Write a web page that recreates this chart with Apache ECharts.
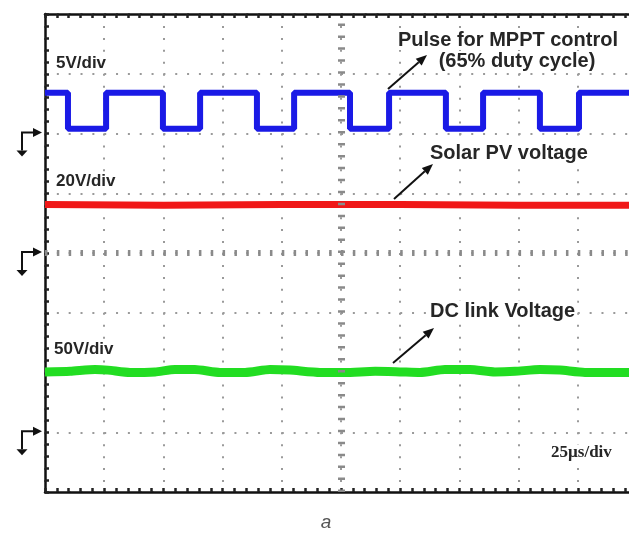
<!DOCTYPE html>
<html>
<head>
<meta charset="UTF-8">
<title>MPPT waveforms</title>
<style>
    html, body { margin: 0; padding: 0; background: #fff; }
    #main { width: 629px; height: 534px; }
</style>
<script src="https://cdn.jsdelivr.net/npm/echarts@6/dist/echarts.min.js"></script>
</head>
<body>
<div id="main"></div>
<script type="text/javascript">
    // time in µs (25 µs/div), levels in screen divisions from the centre line
    var pulseFall = [9.7, 49.8, 89.5, 128.8, 169.3, 209.0];
    var pulseRise = [25.8, 65.5, 105.2, 145.3, 185.0, 225.5];
    var pulseHigh = 2.68;
    var pulseLow = 2.08;

    var pvTime = [0, 50, 100, 150, 200, 250];
    var pvLevel = [0.81, 0.80, 0.81, 0.81, 0.80, 0.80];

    var dcTime = [0, 10.6, 21.1, 26.6, 35.9, 46.5, 54.9, 63.3, 73.9, 84.5, 95.0, 103.5, 116.1, 126.7, 139.4, 149.9, 158.4, 168.9, 179.5, 190.0, 198.5, 209.0, 217.5, 228.0, 250];
    var dcLevel = [-1.99, -1.98, -1.95, -1.96, -2.0, -1.99, -1.95, -1.95, -2.0, -2.0, -1.95, -1.96, -2.0, -2.0, -1.98, -1.99, -2.0, -1.95, -1.95, -1.99, -1.98, -1.95, -1.96, -2.0, -2.0];

    // channel reference (ground) markers on the left
    var groundLevel = [2, 0, -3];

    // square wave from the edge times
    var pulseData = [[0, pulseHigh]];
    for (var i = 0; i < pulseFall.length; i++) {
        pulseData.push([pulseFall[i], pulseHigh], [pulseFall[i], pulseLow]);
        pulseData.push([pulseRise[i], pulseLow], [pulseRise[i], pulseHigh]);
    }
    pulseData.push([250, pulseHigh]);

    var pvData = pvTime.map(function (t, k) { return [t, pvLevel[k]]; });
    var dcData = dcTime.map(function (t, k) { return [t, dcLevel[k]]; });

    var frame = { color: '#111', width: 2.5 };
    var tickIn = { show: true, inside: true, length: 4, lineStyle: { color: '#222', width: 2.5 } };
    var tickMinor = { show: true, splitNumber: 5, length: 4, lineStyle: { color: '#222', width: 2.5 } };

    var myChart = echarts.init(document.getElementById('main'), null, { renderer: 'canvas' });

    var option = {
        animation: false,
        backgroundColor: '#fff',
        // the screen is wider than the picture: its right edge is cut off
        grid: { left: 45, top: 14, width: 592, height: 478, show: false, outerBoundsMode: 'none', containLabel: false },
        xAxis: [{
            type: 'value', min: 0, max: 250, interval: 25, position: 'bottom',
            axisLine: { onZero: false, lineStyle: frame },
            axisTick: tickIn, minorTick: tickMinor,
            axisLabel: { show: false },
            splitLine: { show: true, lineStyle: { color: '#9a9a9a', width: 2, type: [2, 9.95] } }
        }, {
            type: 'value', min: 0, max: 250, interval: 25, position: 'top',
            axisLine: { onZero: false, lineStyle: frame },
            axisTick: tickIn, minorTick: tickMinor,
            axisLabel: { show: false },
            splitLine: { show: false }
        }],
        yAxis: [{
            type: 'value', min: -4, max: 4, interval: 1, position: 'left',
            axisLine: { onZero: false, lineStyle: frame },
            axisTick: tickIn, minorTick: tickMinor,
            axisLabel: { show: false },
            splitLine: { show: true, lineStyle: { color: '#9a9a9a', width: 2, type: [2, 9.84] } }
        }],
        series: [{
            name: 'centre',
            type: 'line',
            data: [],
            z: 1,
            markLine: {
                silent: true, symbol: 'none', label: { show: false }, animation: false,
                data: [
                    { yAxis: 0, lineStyle: { color: '#8a8a8a', width: 6, type: [2.5, 9.34] } },
                    { xAxis: 125, lineStyle: { color: '#8a8a8a', width: 7, type: [2.5, 9.45] } }
                ]
            }
        }, {
            name: 'Pulse for MPPT control',
            type: 'line',
            data: pulseData,
            showSymbol: false,
            z: 3,
            lineStyle: { color: '#1a1ae6', width: 6 }
        }, {
            name: 'Solar PV voltage',
            type: 'line',
            data: pvData,
            showSymbol: false,
            z: 3,
            lineStyle: { color: '#f01818', width: 7 }
        }, {
            name: 'DC link Voltage',
            type: 'line',
            data: dcData,
            smooth: 0.2,
            showSymbol: false,
            z: 3,
            lineStyle: { color: '#22dd22', width: 9 }
        }]
    };

    myChart.setOption(option);

    function arrow(x1, y1, x2, y2) {
        var a = Math.atan2(y2 - y1, x2 - x1), L = 11, W = 4.5;
        var bx = x2 - L * Math.cos(a), by = y2 - L * Math.sin(a);
        return [
            { type: 'line', z: 10, shape: { x1: x1, y1: y1, x2: bx, y2: by }, style: { stroke: '#111', lineWidth: 2 } },
            { type: 'polygon', z: 10, shape: { points: [[x2, y2], [bx - W * Math.sin(a), by + W * Math.cos(a)], [bx + W * Math.sin(a), by - W * Math.cos(a)]] }, style: { fill: '#111' } }
        ];
    }

    function groundMark(y) {
        return [
            { type: 'polyline', shape: { points: [[22, y + 18], [22, y], [34, y]] }, style: { stroke: '#111', lineWidth: 2, fill: null } },
            { type: 'polygon', shape: { points: [[42, y], [33, y - 4.5], [33, y + 4.5]] }, style: { fill: '#111' } },
            { type: 'polygon', shape: { points: [[22, y + 24], [16.5, y + 18], [27.5, y + 18]] }, style: { fill: '#111' } }
        ];
    }

    function label(text, x, y, font, align, bg) {
        return {
            type: 'text', z: 8, x: x, y: y,
            style: {
                text: text, font: font, fill: '#262626',
                align: align || 'left', verticalAlign: 'middle',
                backgroundColor: bg ? '#fff' : null, padding: bg ? [0, 2] : 0
            }
        };
    }

    var big = 'bold 20px "Liberation Sans", Arial, sans-serif';
    var small = 'bold 17px "Liberation Sans", Arial, sans-serif';

    var elements = [];
    groundLevel.forEach(function (g) {
        var py = myChart.convertToPixel({ yAxisIndex: 0 }, g) - 1;
        elements = elements.concat(groundMark(py));
    });
    elements = elements.concat(arrow(388, 89, 427, 55));
    elements = elements.concat(arrow(394, 199, 433, 164));
    elements = elements.concat(arrow(393, 363, 434, 328));

    elements.push(label('5V/div', 54, 63, small, 'left', true));
    elements.push(label('20V/div', 54, 181, small, 'left', true));
    elements.push(label('50V/div', 52, 349, small, 'left', true));
    elements.push(label('Pulse for MPPT control', 396, 40, big, 'left', true));
    elements.push(label('(65% duty cycle)', 517, 61, big, 'center', true));
    elements.push(label('Solar PV voltage', 428, 153, big, 'left', true));
    elements.push(label('DC link Voltage', 428, 311, big, 'left', true));
    elements.push(label('25µs/div', 549, 453, 'bold 17px "Liberation Serif", "Times New Roman", serif', 'left', true));
    elements.push({
        type: 'text', x: 326, y: 523,
        style: { text: 'a', font: 'italic 19px "Liberation Sans", Arial, sans-serif', fill: '#555', align: 'center', verticalAlign: 'middle' }
    });

    myChart.setOption({ graphic: { elements: elements } });
</script>
</body>
</html>
